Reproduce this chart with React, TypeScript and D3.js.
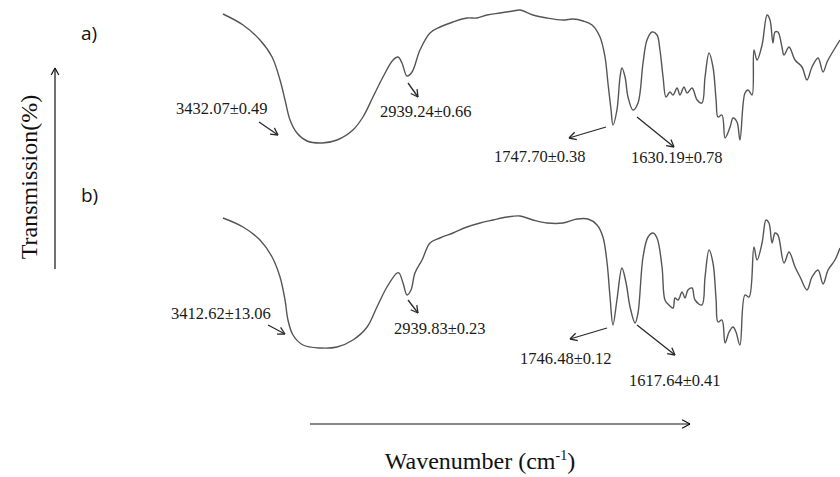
import { useEffect, useRef } from "react";
import * as d3 from "d3";

// FTIR spectra, wavenumber (cm-1) vs transmission (arbitrary %)
const waveA = [
  4000, 3884, 3786, 3716, 3670, 3641, 3612, 3572, 3514, 3427, 3340, 3248, 3190, 3132, 3074, 3016,
  2987, 2964, 2935, 2906, 2860, 2802, 2744, 2669, 2588, 2530, 2472, 2397, 2321, 2281, 2206, 2125,
  2032, 1974, 1916, 1864, 1818, 1789, 1772, 1754, 1743, 1720, 1702, 1691, 1673, 1656, 1627, 1598,
  1569, 1546, 1517, 1488, 1471, 1453, 1436, 1413, 1395, 1372, 1355, 1332, 1314, 1285, 1256, 1228,
  1210, 1187, 1164, 1146, 1135, 1112, 1094, 1065, 1048, 1025, 1008, 979, 961, 938, 927, 909, 880,
  851, 834, 817, 805, 788, 765, 753, 724, 689, 649, 620, 591, 556, 527, 504, 475, 429
];
const transA = [
  136, 125, 110, 93, 70, 50, 30, 17, 9, 7, 10, 20, 33, 53, 73, 90,
  93, 87, 74, 78, 100, 117, 123, 128, 132, 132, 135, 137, 139, 140, 135, 132,
  130, 131, 129, 125, 113, 93, 67, 40, 25, 40, 73, 82, 73, 53, 40, 47,
  87, 110, 118, 115, 100, 73, 53, 58, 55, 62, 55, 63, 57, 62, 50, 47,
  73, 97, 83, 50, 33, 35, 12, 23, 32, 28, 10, 57, 60, 55, 100, 90, 105,
  135, 130, 107, 118, 118, 103, 95, 103, 90, 83, 70, 83, 92, 78, 88, 97, 110
];

const waveB = [
  4000, 3884, 3786, 3716, 3670, 3641, 3624, 3595, 3537, 3439, 3340, 3248, 3166, 3109, 3051, 2993,
  2981, 2958, 2935, 2912, 2889, 2848, 2802, 2744, 2669, 2588, 2512, 2437, 2356, 2281, 2206, 2125,
  2032, 1951, 1887, 1835, 1801, 1777, 1760, 1743, 1720, 1691, 1667, 1644, 1615, 1598, 1569, 1540,
  1511, 1488, 1459, 1442, 1419, 1395, 1384, 1366, 1343, 1326, 1309, 1285, 1268, 1228, 1210, 1187,
  1164, 1146, 1135, 1112, 1094, 1071, 1048, 1031, 1008, 979, 955, 927, 909, 880, 857, 840, 822,
  805, 788, 753, 724, 689, 660, 620, 591, 556, 527, 498, 458, 429
];
const transB = [
  137, 128, 115, 98, 78, 55, 35, 20, 10, 7, 8, 15, 28, 48, 68, 82,
  82, 72, 60, 65, 82, 95, 112, 117, 122, 128, 132, 135, 138, 139, 135, 132,
  132, 136, 136, 130, 118, 92, 58, 30, 55, 87, 72, 48, 32, 42, 98, 118,
  122, 117, 88, 55, 50, 47, 57, 55, 63, 57, 65, 67, 55, 50, 78, 105,
  92, 55, 33, 35, 12, 23, 28, 23, 10, 60, 58, 108, 95, 112, 135, 132, 112,
  122, 120, 92, 103, 88, 78, 65, 78, 85, 71, 85, 95, 107
];

const peakLabelsA = ["3432.07±0.49", "2939.24±0.66", "1747.70±0.38", "1630.19±0.78"];
const peakLabelsB = ["3412.62±13.06", "2939.83±0.23", "1746.48±0.12", "1617.64±0.41"];
const panelNames = ["a)", "b)"];

export default function App() {
  const ref = useRef<SVGSVGElement>(null);

  useEffect(() => {
    const svg = d3.select(ref.current);
    svg.selectAll("*").remove();

    const width = 840;
    const height = 477;
    svg.attr("width", width).attr("height", height);

    const x = d3.scaleLinear().domain([4000, 400]).range([223, 845]);
    const yA = d3.scaleLinear().domain([0, 150]).range([150, 0]);
    const yB = d3.scaleLinear().domain([0, 150]).range([355, 205]);

    const panels = [
      { wave: waveA, trans: transA, y: yA, labels: peakLabelsA },
      { wave: waveB, trans: transB, y: yB, labels: peakLabelsB }
    ];

    // label + arrow placement for each peak, per panel
    const layout = [
      [
        { tx: 176, ty: 114, a: [259, 122, 278, 135] },
        { tx: 380, ty: 117, a: [408, 83, 418, 97] },
        { tx: 494, ty: 162, a: [606, 127, 569, 138] },
        { tx: 631, ty: 163, a: [637, 117, 674, 147] }
      ],
      [
        { tx: 171, ty: 319, a: [268, 325, 285, 334] },
        { tx: 394, ty: 334, a: [408, 300, 418, 313] },
        { tx: 520, ty: 364, a: [607, 328, 570, 339] },
        { tx: 629, ty: 386, a: [637, 325, 675, 355] }
      ]
    ];

    const arrow = (g, x1, y1, x2, y2, head = 8, color = "#2a2a2a", w = 1.3) => {
      g.append("line")
        .attr("x1", x1).attr("y1", y1).attr("x2", x2).attr("y2", y2)
        .attr("stroke", color).attr("stroke-width", w);
      const ang = Math.atan2(y2 - y1, x2 - x1);
      [-0.5, 0.5].forEach(d => {
        g.append("line")
          .attr("x1", x2).attr("y1", y2)
          .attr("x2", x2 - head * Math.cos(ang + d))
          .attr("y2", y2 - head * Math.sin(ang + d))
          .attr("stroke", color).attr("stroke-width", w);
      });
    };

    panels.forEach((p, i) => {
      const pts = p.wave.map((w, j) => [x(w), p.y(p.trans[j])] as [number, number]);
      const line = d3.line().curve(d3.curveCatmullRom.alpha(0.5));
      svg.append("path")
        .attr("d", line(pts))
        .attr("fill", "none")
        .attr("stroke", "#555")
        .attr("stroke-width", 1.4);

      const g = svg.append("g");
      p.labels.forEach((t, k) => {
        const l = layout[i][k];
        g.append("text")
          .attr("x", l.tx).attr("y", l.ty)
          .attr("font-family", "'Liberation Serif', 'Times New Roman', serif")
          .attr("font-size", 16.5)
          .attr("fill", "#1a1a1a")
          .text(t);
        arrow(g, l.a[0], l.a[1], l.a[2], l.a[3]);
      });
    });

    // panel letters
    svg.selectAll("text.panel")
      .data(panelNames)
      .join("text")
      .attr("class", "panel")
      .attr("x", 81)
      .attr("y", (d, i) => (i === 0 ? 40 : 202))
      .attr("font-family", "'Open Sans', 'Noto Sans', sans-serif")
      .attr("font-size", 19)
      .attr("fill", "#111")
      .text(d => d);

    // y axis arrow + label
    arrow(svg, 55, 269, 55, 68, 8, "#111", 1.2);
    svg.append("text")
      .attr("transform", "translate(37,177) rotate(-90)")
      .attr("text-anchor", "middle")
      .attr("font-family", "'Liberation Serif', 'Times New Roman', serif")
      .attr("font-size", 24)
      .attr("fill", "#111")
      .text("Transmission(%)");

    // x axis arrow + label
    arrow(svg, 310, 424, 690, 424, 9, "#111", 1.2);
    const xl = svg.append("text")
      .attr("x", 480).attr("y", 469)
      .attr("text-anchor", "middle")
      .attr("font-family", "'Liberation Serif', 'Times New Roman', serif")
      .attr("font-size", 24)
      .attr("fill", "#111");
    xl.append("tspan").text("Wavenumber (cm");
    xl.append("tspan").attr("dy", -9).attr("font-size", 14).text("-1");
    xl.append("tspan").attr("dy", 9).text(")");
  }, []);

  return (
    <svg
      ref={ref}
      style={{ position: "absolute", left: 0, top: 0, background: "#fff", display: "block" }}
    />
  );
}
